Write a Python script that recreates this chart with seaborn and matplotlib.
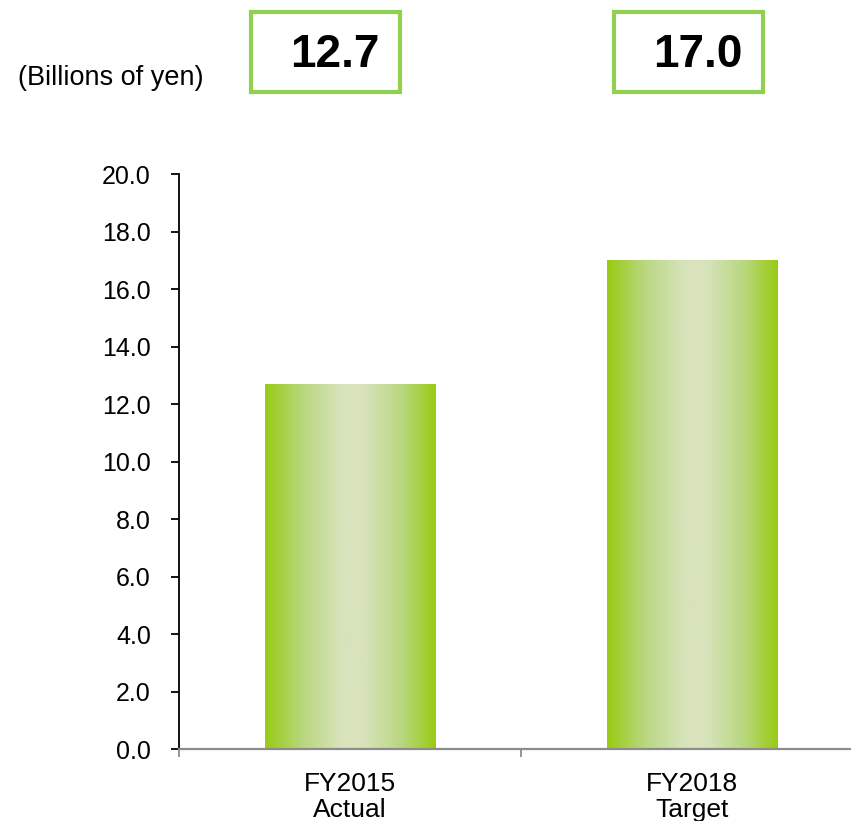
import numpy as np
import pandas as pd
import matplotlib
matplotlib.use("Agg")
import matplotlib.pyplot as plt
from matplotlib.colors import LinearSegmentedColormap
from matplotlib.patches import Rectangle
import seaborn as sns

# Data
categories = ["FY2015\nActual", "FY2018\nTarget"]
values = [12.7, 17.0]
y_ticks = [0, 2, 4, 6, 8, 10, 12, 14, 16, 18, 20]
unit_label = "(Billions of yen)"

sns.set_theme(style="white")
plt.rcParams["font.family"] = ["Liberation Sans", "DejaVu Sans"]

W, H = 851, 821
fig = plt.figure(figsize=(W / 100, H / 100), dpi=100)
ax = fig.add_axes([179 / W, (H - 749) / H, (863 - 179) / W, 575 / H])

df = pd.DataFrame({"category": categories, "value": values})
sns.barplot(data=df, x="category", y="value", ax=ax, width=0.5,
            color="#99CC11", saturation=1, errorbar=None)

# Horizontal green -> pale -> green shading inside each bar
grad_cmap = LinearSegmentedColormap.from_list(
    "bar_shade",
    [(0.0, "#99CB14"), (0.22, "#B9D77F"), (0.45, "#D8E3BC"),
     (0.58, "#D8E3BC"), (0.8, "#B9D77F"), (1.0, "#99CB14")])
gradient = np.linspace(0, 1, 256).reshape(1, -1)
for patch in list(ax.patches):
    x0, y0 = patch.get_x(), patch.get_y()
    w, h = patch.get_width(), patch.get_height()
    im = ax.imshow(gradient, cmap=grad_cmap, aspect="auto",
                   extent=[x0, x0 + w, y0, y0 + h], zorder=patch.get_zorder())
    im.set_clip_path(patch)
    patch.set_facecolor("none")
    patch.set_edgecolor("none")

ax.set_xlim(-0.5, 1.5)
ax.set_ylim(0, 20)
ax.set_yticks(y_ticks)
ax.set_yticklabels([f"{v:.1f}" for v in y_ticks])
ax.set_xlabel("")
ax.set_ylabel("")

# Axis styling
for side in ("top", "right"):
    ax.spines[side].set_visible(False)
ax.spines["left"].set_color("black")
ax.spines["left"].set_linewidth(1.3)
ax.spines["bottom"].set_color("#8C8C8C")
ax.spines["bottom"].set_linewidth(1.6)

ax.tick_params(axis="y", which="major", direction="out", length=5.8, width=1.3,
               color="black", pad=14.5, labelsize=18, labelcolor="black", left=True)
ax.set_xticks([-0.5, 0.5, 1.5], minor=True)
ax.tick_params(axis="x", which="minor", direction="out", length=6, width=1.3,
               color="#8C8C8C", bottom=True)
ax.tick_params(axis="x", which="major", length=0, pad=16.5, labelsize=19,
               labelcolor="black")
for lbl in ax.get_xticklabels():
    lbl.set_linespacing(1.12)

# Unit label
fig.text(18 / W, 1 - 78 / H, unit_label, fontsize=19.5, ha="left", va="center",
         color="black")

# Value callout boxes
box_left = [251, 614]
box_w, box_top, box_bot = 149, 12, 92
for bx, v in zip(box_left, values):
    fig.patches.append(Rectangle((bx / W, 1 - box_bot / H), box_w / W,
                                 (box_bot - box_top) / H, transform=fig.transFigure,
                                 facecolor="white", edgecolor="#92D050",
                                 linewidth=3.0, zorder=5))
    fig.text((bx + box_w / 2 + 9) / W, 1 - 55 / H, f"{v:.1f}", fontsize=33,
             fontweight="bold", ha="center", va="center", color="black", zorder=6)

fig.savefig("out.png", dpi=100)
